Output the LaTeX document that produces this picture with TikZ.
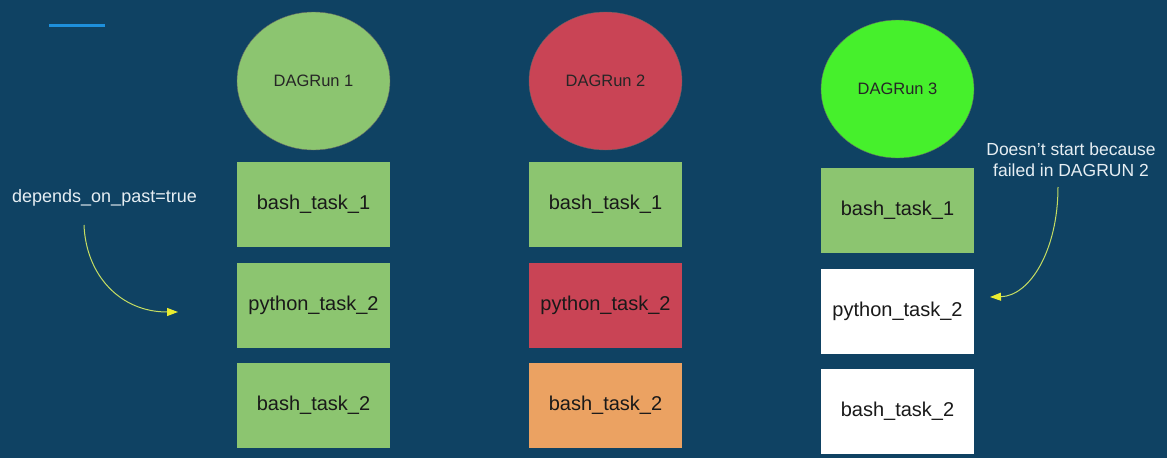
\documentclass[tikz,border=0pt]{standalone}
\usepackage{fontspec}
\setmainfont{Liberation Sans}
\usetikzlibrary{arrows.meta,shapes.geometric}
\definecolor{bg}{HTML}{0F4263}
\definecolor{okgreen}{HTML}{8CC570}
\definecolor{failred}{HTML}{C94455}
\definecolor{uporange}{HTML}{EBA262}
\definecolor{brightgreen}{HTML}{46F02C}
\definecolor{arrowcol}{HTML}{C5DD62}
\definecolor{tipcol}{HTML}{E9EC30}
\definecolor{accent}{HTML}{1E90DC}
\definecolor{labeltext}{HTML}{E6EEF3}
\begin{document}
\begin{tikzpicture}[x=1pt,y=-1pt,
  run/.style={ellipse,draw=black!60,line width=0.4pt,minimum width=153pt,minimum height=138pt,inner sep=0pt,font=\fontsize{16.5}{19}\selectfont,text=black!85},
  task/.style={rectangle,minimum width=153pt,minimum height=85pt,inner sep=0pt,font=\fontsize{20}{24}\selectfont,text=black!90},
  note/.style={font=\fontsize{18}{21}\selectfont,text=labeltext,align=center},
  curve/.style={draw=arrowcol,line width=1pt,-{Triangle[length=11pt,width=8pt,fill=tipcol,color=tipcol]}}]
\useasboundingbox (0,0) rectangle (1167,458);
\fill[bg] (0,0) rectangle (1167,458);
\fill[accent] (49,23.5) rectangle (105,26.5);
% columns
\node[run,fill=okgreen] (r1) at (313.5,81) {DAGRun 1};
\node[run,fill=failred] (r2) at (605.5,81) {DAGRun 2};
\node[run,fill=brightgreen] (r3) at (897.5,89) {DAGRun 3};
\node[task,fill=okgreen] (a1) at (313.5,204.5) {bash\_task\_1};
\node[task,fill=okgreen] (b1) at (313.5,305) {python\_task\_2};
\node[task,fill=okgreen] (c1) at (313.5,405) {bash\_task\_2};
\node[task,fill=okgreen] (a2) at (605.5,204.5) {bash\_task\_1};
\node[task,fill=failred] (b2) at (605.5,305) {python\_task\_2};
\node[task,fill=uporange] (c2) at (605.5,405) {bash\_task\_2};
\node[task,fill=okgreen] (a3) at (897.5,210.5) {bash\_task\_1};
\node[task,fill=white] (b3) at (897.5,311) {python\_task\_2};
\node[task,fill=white] (c3) at (897.5,411) {bash\_task\_2};
% notes
\node[note] (n1) at (104.5,198) {depends\_on\_past=true};
\node[note,font=\fontsize{17.5}{21}\selectfont] (n2) at (1071,160) {Doesn’t start because\\failed in DAGRUN 2};
\coordinate (s1) at (84,225);
\coordinate (e1) at (178,312);
\coordinate (s2) at (1058,187);
\coordinate (e2) at (990,297);
\draw[curve] (s1) .. controls (86,275) and (120,312) .. (e1);
\draw[curve] (s2) .. controls (1058,250) and (1030,296) .. (e2);
\end{tikzpicture}
\end{document}
